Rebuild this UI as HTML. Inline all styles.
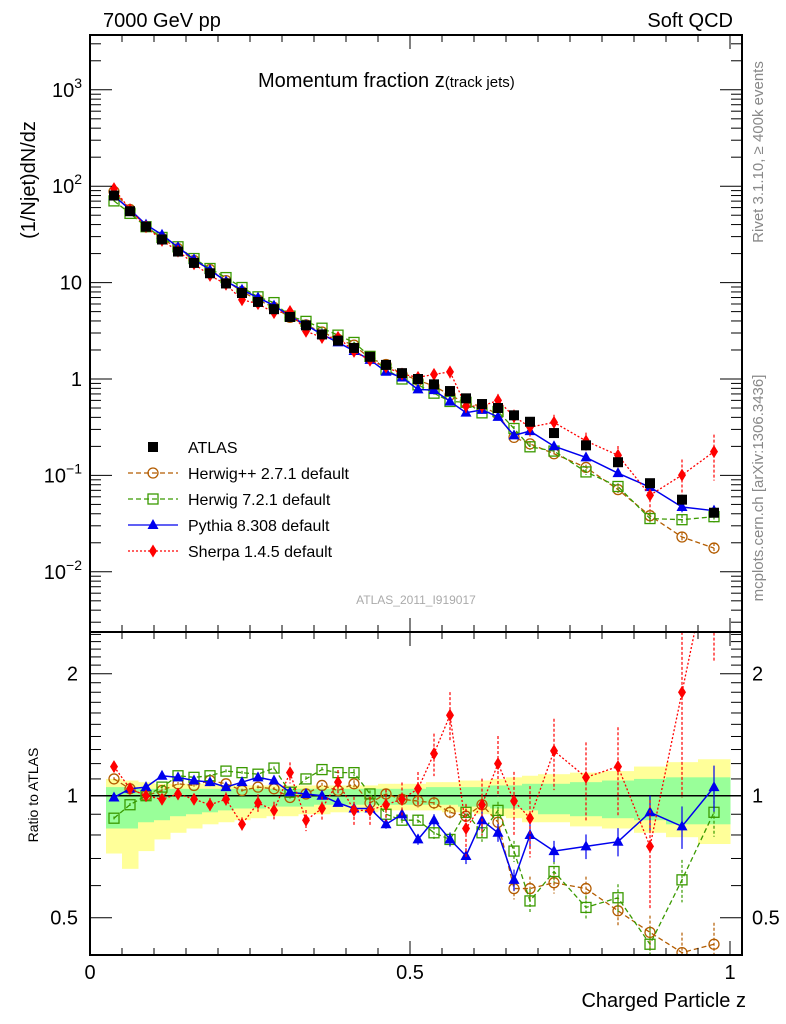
<!DOCTYPE html>
<html><head><meta charset="utf-8">
<style>
html,body{margin:0;padding:0;background:#fff;}
svg{display:block;font-family:"Liberation Sans",sans-serif;}
</style></head>
<body>
<svg id="chart" width="786" height="1024" viewBox="0 0 786 1024" xmlns="http://www.w3.org/2000/svg">
<defs>
<clipPath id="clipTop"><rect x="90" y="35" width="652" height="597"/></clipPath>
<clipPath id="clipBot"><rect x="90" y="632" width="652" height="323"/></clipPath>
</defs>
<g id="bands" clip-path="url(#clipBot)"></g>
<g id="topMarks" clip-path="url(#clipTop)"></g>
<g id="botMarks" clip-path="url(#clipBot)"></g>
<g id="axes"></g>
<text x="103" y="27" font-size="20">7000 GeV pp</text>
<text x="733" y="27" font-size="20" text-anchor="end">Soft QCD</text>
<text x="258" y="87" font-size="20">Momentum fraction z<tspan font-size="15">(track jets)</tspan></text>
<text x="416" y="604" font-size="12" fill="#aaa" text-anchor="middle">ATLAS_2011_I919017</text>
<text transform="translate(35,180) rotate(-90)" font-size="20" text-anchor="middle">(1/Njet)dN/dz</text>
<text transform="translate(38,795) rotate(-90)" font-size="14" text-anchor="middle">Ratio to ATLAS</text>
<text x="746" y="1007" font-size="20" text-anchor="end">Charged Particle z</text>
<text transform="translate(763,152) rotate(-90)" font-size="15" fill="#888" text-anchor="middle">Rivet 3.1.10, ≥ 400k events</text>
<text transform="translate(763,488) rotate(-90)" font-size="15" fill="#888" text-anchor="middle">mcplots.cern.ch [arXiv:1306.3436]</text>
<g id="legend"></g>
</svg>
<script>
const zCenters=[0.0375,0.0625,0.0875,0.1125,0.1375,0.1625,0.1875,0.2125,0.2375,0.2625,0.2875,0.3125,0.3375,0.3625,0.3875,0.4125,0.4375,0.4625,0.4875,0.5125,0.5375,0.5625,0.5875,0.6125,0.6375,0.6625,0.6875,0.725,0.775,0.825,0.875,0.925,0.975];
const zLow=[0.025,0.05,0.075,0.1,0.125,0.15,0.175,0.2,0.225,0.25,0.275,0.3,0.325,0.35,0.375,0.4,0.425,0.45,0.475,0.5,0.525,0.55,0.575,0.6,0.625,0.65,0.675,0.7,0.75,0.8,0.85,0.9,0.95];
const zHigh=[0.05,0.075,0.1,0.125,0.15,0.175,0.2,0.225,0.25,0.275,0.3,0.325,0.35,0.375,0.4,0.425,0.45,0.475,0.5,0.525,0.55,0.575,0.6,0.625,0.65,0.675,0.7,0.75,0.8,0.85,0.9,0.95,1.0];
const atlasVals=[80,55,38,28,21,16,12.5,9.8,7.8,6.3,5.3,4.4,3.6,2.9,2.5,2.1,1.7,1.4,1.15,1.0,0.88,0.75,0.63,0.55,0.5,0.42,0.36,0.275,0.205,0.137,0.083,0.056,0.041];
const herwigppRatio=[1.10,1.04,1.0,1.03,1.07,1.06,1.09,1.07,1.03,1.05,1.04,0.99,1.01,1.06,1.03,1.07,0.96,1.01,0.98,0.97,0.96,0.91,0.89,0.95,0.86,0.59,0.59,0.61,0.59,0.52,0.46,0.41,0.43];
const herwig7Ratio=[0.88,0.95,1.0,1.05,1.12,1.11,1.12,1.15,1.14,1.13,1.17,1.02,1.10,1.16,1.14,1.14,1.01,0.90,0.87,0.87,0.81,0.78,0.91,0.81,0.92,0.73,0.55,0.65,0.53,0.56,0.43,0.62,0.91];
const pythiaRatio=[0.99,1.04,1.05,1.12,1.11,1.09,1.08,1.05,1.08,1.11,1.09,1.02,1.01,1.0,0.96,0.93,0.93,0.85,0.90,0.78,0.87,0.78,0.71,0.87,0.81,0.62,0.80,0.73,0.75,0.77,0.91,0.84,1.05];
const sherpaRatio=[1.18,1.04,1.0,0.98,1.01,0.98,0.95,0.98,0.85,0.96,0.92,1.14,0.87,0.93,1.08,0.92,0.92,0.95,0.98,1.04,1.27,1.58,0.83,0.95,1.20,0.97,0.88,1.29,1.11,1.18,0.75,1.80,4.3];
const mcRelErr=[0.01,0.01,0.01,0.01,0.01,0.01,0.01,0.01,0.01,0.01,0.01,0.01,0.015,0.015,0.015,0.02,0.02,0.025,0.03,0.03,0.035,0.04,0.045,0.05,0.05,0.06,0.07,0.06,0.07,0.08,0.1,0.12,0.13];
const sherpaRelErr=[0.03,0.03,0.03,0.03,0.03,0.03,0.04,0.04,0.04,0.05,0.05,0.06,0.06,0.07,0.07,0.08,0.08,0.09,0.1,0.1,0.12,0.14,0.15,0.16,0.17,0.18,0.2,0.2,0.22,0.25,0.3,0.45,0.5];
const yellowLow=[0.72,0.66,0.73,0.78,0.81,0.83,0.85,0.86,0.87,0.88,0.89,0.89,0.9,0.9,0.91,0.91,0.91,0.92,0.92,0.92,0.92,0.91,0.91,0.9,0.89,0.88,0.86,0.86,0.84,0.83,0.81,0.79,0.76];
const yellowHigh=[1.10,1.09,1.08,1.07,1.07,1.07,1.07,1.06,1.06,1.06,1.06,1.06,1.06,1.06,1.06,1.06,1.06,1.07,1.07,1.07,1.08,1.08,1.09,1.09,1.10,1.11,1.12,1.13,1.14,1.15,1.18,1.21,1.23];
const greenLow=[0.83,0.83,0.86,0.87,0.89,0.9,0.91,0.92,0.93,0.93,0.94,0.94,0.94,0.95,0.95,0.95,0.95,0.95,0.95,0.95,0.95,0.95,0.94,0.94,0.93,0.93,0.92,0.9,0.89,0.88,0.87,0.85,0.85];
const greenHigh=[1.05,1.05,1.04,1.04,1.04,1.04,1.04,1.04,1.04,1.04,1.04,1.04,1.04,1.04,1.04,1.04,1.04,1.04,1.04,1.04,1.05,1.05,1.05,1.05,1.06,1.06,1.07,1.07,1.08,1.09,1.10,1.11,1.11];
const xTickLabels=["0","0.5","1"];
const yTickLabels=["10⁻²","10⁻¹","1","10","10²","10³"];
const ratioTickLabels=["0.5","1","2"];

const NS="http://www.w3.org/2000/svg";
const X=z=>90+640*z;
const YT=v=>379-96.4*Math.log10(v);
const YR=r=>795.7-122*Math.log2(r);
function mk(tag,attrs,parent){const e=document.createElementNS(NS,tag);for(const k in attrs)e.setAttribute(k,attrs[k]);parent.appendChild(e);return e;}

const bandsG=document.getElementById('bands');
zCenters.forEach((z,i)=>{
  const y1=mk('rect',{x:X(zLow[i]),y:YR(yellowHigh[i]),width:X(zHigh[i])-X(zLow[i])+0.5,height:YR(yellowLow[i])-YR(yellowHigh[i]),fill:'#ffff99'},bandsG);
  
  
  const g1=mk('rect',{x:X(zLow[i]),y:YR(greenHigh[i]),width:X(zHigh[i])-X(zLow[i])+0.5,height:YR(greenLow[i])-YR(greenHigh[i]),fill:'#99ff99'},bandsG);
  
  
});
const oneLine=mk('line',{x1:90,x2:742,y1:YR(1),y2:YR(1),stroke:'#000','stroke-width':1.5},bandsG);



const seriesList=[
 {name:'herwigpp',ratio:herwigppRatio,err:mcRelErr,color:'#b35c00',dash:'5,3',marker:'circle'},
 {name:'herwig7',ratio:herwig7Ratio,err:mcRelErr,color:'#3a9a00',dash:'5,3',marker:'square'},
 {name:'pythia',ratio:pythiaRatio,err:mcRelErr,color:'#0000ee',dash:'',marker:'triangle'},
 {name:'sherpa',ratio:sherpaRatio,err:sherpaRelErr,color:'#ff0000',dash:'2,2',marker:'diamond'}
];
function marker(type,x,y,color,parent){
  let e;
  if(type==='circle')e=mk('circle',{cx:x,cy:y,r:5,fill:'none',stroke:color,'stroke-width':1.3},parent);
  else if(type==='square')e=mk('rect',{x:x-5,y:y-5,width:10,height:10,fill:'none',stroke:color,'stroke-width':1.3},parent);
  else if(type==='triangle')e=mk('polygon',{points:`${x},${y-6} ${x-5.5},${y+4} ${x+5.5},${y+4}`,fill:color},parent);
  else if(type==='diamond')e=mk('polygon',{points:`${x},${y-6.5} ${x-4},${y} ${x},${y+6.5} ${x+4},${y}`,fill:color},parent);
  else e=mk('rect',{x:x-5,y:y-5,width:10,height:10,fill:color},parent);
  return e;
}
function drawSeries(parent,Yf,valFn,s,panel){
  const g=mk('g',{},parent);
  
  
  const pts=zCenters.map((z,i)=>X(z)+','+Yf(valFn(i))).join(' ');
  const ln=mk('polyline',{points:pts,fill:'none',stroke:s.color,'stroke-width':s.dash?1.3:1.5,'stroke-dasharray':s.dash},g);
  
  
  zCenters.forEach((z,i)=>{
    const v=valFn(i),e=s.err[i];
    const eb=mk('line',{x1:X(z),x2:X(z),y1:Yf(v*(1+e)),y2:Yf(v*(1-e)),stroke:s.color,'stroke-width':1.2,'stroke-dasharray':s.dash?'3,2':''},g);
    
    
    const m=marker(s.marker,X(z),Yf(v),s.color,g);
    
    
  });
}
const topG=document.getElementById('topMarks'), botG=document.getElementById('botMarks');
seriesList.forEach(s=>drawSeries(topG,YT,i=>atlasVals[i]*s.ratio[i],s,'main'));
const ag=mk('g',{},topG);


zCenters.forEach((z,i)=>{
  const m=marker('sq',X(z),YT(atlasVals[i]),'#000',ag);
  
  
});
seriesList.forEach(s=>drawSeries(botG,YR,i=>s.ratio[i],s,'ratio'));

const ax=document.getElementById('axes');
const fr1=mk('rect',{x:90,y:35,width:652,height:597,fill:'none',stroke:'#000','stroke-width':2},ax);


const fr2=mk('rect',{x:90,y:632,width:652,height:323,fill:'none',stroke:'#000','stroke-width':2},ax);


for(let k=0;k<=20;k++){
  const z=k*0.05,x=X(z),major=(k%10===0),len=major?14:7;
  mk('line',{x1:x,x2:x,y1:35,y2:35+len,stroke:'#000','stroke-width':1},ax);
  mk('line',{x1:x,x2:x,y1:632,y2:632-len,stroke:'#000','stroke-width':1},ax);
  mk('line',{x1:x,x2:x,y1:632,y2:632+len,stroke:'#000','stroke-width':1},ax);
  mk('line',{x1:x,x2:x,y1:955,y2:955-len,stroke:'#000','stroke-width':1},ax);
}
xTickLabels.forEach((t,i)=>{const e=mk('text',{x:X(i*0.5),y:979,'font-size':20,'text-anchor':'middle'},ax);e.textContent=t;
 });
for(let d=-3;d<=3;d++){for(let m=1;m<10;m++){const v=m*Math.pow(10,d),y=YT(v);if(y<35||y>632)continue;
  const len=m===1?22:11;
  mk('line',{x1:90,x2:90+len,y1:y,y2:y,stroke:'#000','stroke-width':1},ax);
  mk('line',{x1:742,x2:742-len,y1:y,y2:y,stroke:'#000','stroke-width':1},ax);}}
yTickLabels.forEach((t,i)=>{const d=i-2,y=YT(Math.pow(10,d));
  const e=mk('text',{x:82,y:y+7,'font-size':20,'text-anchor':'end'},ax);
  if(d===0){e.textContent='1';}else if(d===1){e.textContent='10';}
  else{e.textContent='10';const ts=mk('tspan',{dy:-9,'font-size':14},e);ts.textContent=(d<0?'−':'')+Math.abs(d);}
  });
for(let k=4;k<=25;k++){const r=k/10,y=YR(r);if(y<633||y>954)continue;
  const major=(k===5||k===10||k===20),len=major?22:11;
  mk('line',{x1:90,x2:90+len,y1:y,y2:y,stroke:'#000','stroke-width':1},ax);
  mk('line',{x1:742,x2:742-len,y1:y,y2:y,stroke:'#000','stroke-width':1},ax);}
ratioTickLabels.forEach(t=>{const y=YR(parseFloat(t));
  const e=mk('text',{x:78,y:y+7,'font-size':20,'text-anchor':'end'},ax);e.textContent=t;
  
  const e2=mk('text',{x:752,y:y+7,'font-size':20},ax);e2.textContent=t;
  });

const lg=document.getElementById('legend');
const legNames=['ATLAS','Herwig++ 2.7.1 default','Herwig 7.2.1 default','Pythia 8.308 default','Sherpa 1.4.5 default'];
legNames.forEach((n,i)=>{
  const y=447+i*26;
  const g=mk('g',{},lg);
  
  
  if(i===0){marker('sq',153,y,'#000',g);}
  else{const s=seriesList[i-1];
    mk('line',{x1:128,x2:178,y1:y,y2:y,stroke:s.color,'stroke-width':1.3,'stroke-dasharray':s.dash},g);
    marker(s.marker,153,y,s.color,g);}
  const t=mk('text',{x:188,y:y+6,'font-size':16},g);t.textContent=n;
});
</script>
</body></html>
